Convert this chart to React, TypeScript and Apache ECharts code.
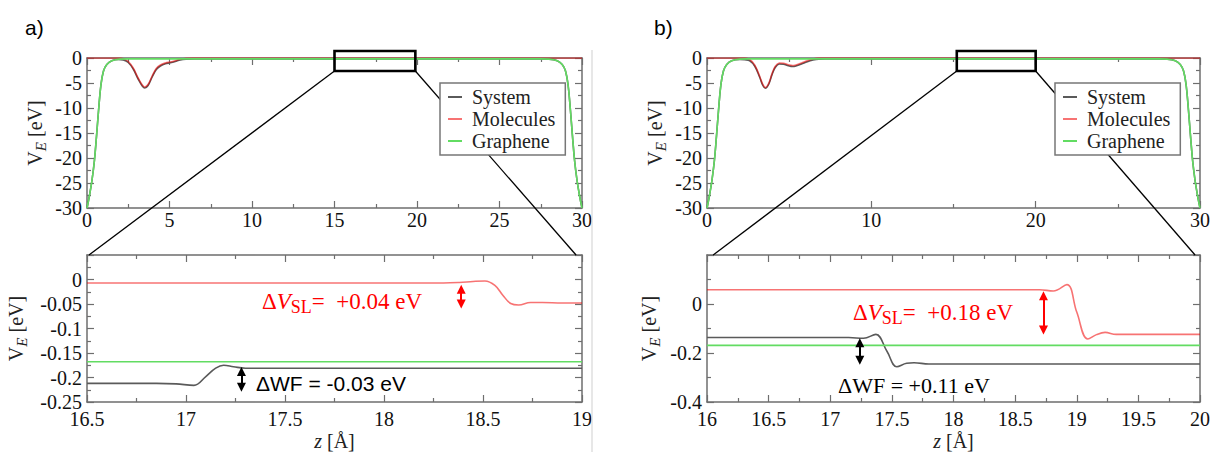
import React, { useEffect, useRef } from "react";
import * as echarts from "echarts";

// ---------- data ----------
const seriesNames = ["System", "Molecules", "Graphene"];

// panel a, full cell (z in Å, V_E in eV)
const grapheneTopA: number[][] = [[0,-30],[0.15,-27.5],[0.3,-24.5],[0.45,-20.5],[0.58,-15.5],[0.7,-10.5],[0.84,-5.5],[1.0,-2.6],[1.2,-1.3],[1.5,-0.55],[2.0,-0.22],[2.5,-0.17],[27.5,-0.17],[28.0,-0.22],[28.5,-0.55],[28.8,-1.3],[29.0,-2.6],[29.16,-5.5],[29.3,-10.5],[29.42,-15.5],[29.55,-20.5],[29.7,-24.5],[29.85,-27.5],[30,-30]];
const systemTopA: number[][] = [[0,-30],[0.15,-27.5],[0.3,-24.5],[0.45,-20.5],[0.58,-15.5],[0.7,-10.5],[0.84,-5.5],[1.0,-2.6],[1.2,-1.3],[1.5,-0.55],[1.9,-0.3],[2.2,-0.4],[2.5,-0.9],[2.8,-2.2],[3.1,-4.2],[3.35,-5.6],[3.5,-6.0],[3.7,-5.5],[3.95,-3.8],[4.2,-2.3],[4.45,-1.6],[4.75,-1.15],[5.05,-0.95],[5.35,-0.7],[5.65,-0.4],[6.0,-0.25],[6.5,-0.2],[27.5,-0.18],[28.0,-0.22],[28.5,-0.55],[28.8,-1.3],[29.0,-2.6],[29.16,-5.5],[29.3,-10.5],[29.42,-15.5],[29.55,-20.5],[29.7,-24.5],[29.85,-27.5],[30,-30]];
const moleculesTopA: number[][] = [[0,0],[2.0,0],[2.2,-0.15],[2.5,-0.7],[2.8,-2.0],[3.1,-4.0],[3.35,-5.4],[3.5,-5.8],[3.7,-5.3],[3.95,-3.6],[4.2,-2.1],[4.45,-1.4],[4.75,-1.0],[5.05,-0.8],[5.35,-0.55],[5.65,-0.25],[6.0,-0.05],[6.4,0],[30,0]];

// panel b, full cell
const grapheneTopB: number[][] = [[0,-30],[0.15,-27.5],[0.3,-24.5],[0.45,-20.5],[0.58,-15.5],[0.7,-10.5],[0.84,-5.5],[1.0,-2.6],[1.2,-1.3],[1.5,-0.55],[2.0,-0.22],[2.5,-0.17],[27.5,-0.17],[28.0,-0.22],[28.5,-0.55],[28.8,-1.3],[29.0,-2.6],[29.16,-5.5],[29.3,-10.5],[29.42,-15.5],[29.55,-20.5],[29.7,-24.5],[29.85,-27.5],[30,-30]];
const systemTopB: number[][] = [[0,-30],[0.15,-27.5],[0.3,-24.5],[0.45,-20.5],[0.58,-15.5],[0.7,-10.5],[0.84,-5.5],[1.0,-2.6],[1.2,-1.3],[1.5,-0.55],[2.0,-0.3],[2.3,-0.35],[2.6,-0.55],[2.9,-1.6],[3.2,-3.8],[3.4,-5.5],[3.55,-6.05],[3.75,-5.3],[3.95,-3.4],[4.15,-1.9],[4.4,-1.2],[4.65,-1.25],[4.95,-1.55],[5.2,-1.7],[5.45,-1.55],[5.75,-1.2],[6.1,-0.75],[6.4,-0.45],[6.8,-0.22],[7.2,-0.18],[27.5,-0.18],[28.0,-0.22],[28.5,-0.55],[28.8,-1.3],[29.0,-2.6],[29.16,-5.5],[29.3,-10.5],[29.42,-15.5],[29.55,-20.5],[29.7,-24.5],[29.85,-27.5],[30,-30]];
const moleculesTopB: number[][] = [[0,0],[2.3,0],[2.6,-0.3],[2.9,-1.4],[3.2,-3.6],[3.4,-5.3],[3.55,-5.9],[3.75,-5.1],[3.95,-3.2],[4.15,-1.7],[4.4,-1.0],[4.65,-1.05],[4.95,-1.35],[5.2,-1.5],[5.45,-1.35],[5.75,-1.0],[6.1,-0.55],[6.4,-0.25],[6.8,-0.03],[7.2,0],[30,0]];

// panel a, zoom 16.5–19 Å
const systemZoomA: number[][] = [[16.5,-0.212],[16.85,-0.212],[16.95,-0.213],[17.04,-0.216],[17.1,-0.198],[17.15,-0.181],[17.19,-0.175],[17.24,-0.178],[17.3,-0.181],[17.6,-0.181],[19,-0.181]];
const moleculesZoomA: number[][] = [[16.5,-0.007],[18.3,-0.007],[18.38,-0.006],[18.45,-0.004],[18.51,-0.003],[18.56,-0.012],[18.6,-0.032],[18.64,-0.049],[18.68,-0.052],[18.74,-0.047],[18.8,-0.047],[18.9,-0.048],[19,-0.048]];
const grapheneZoomA: number[][] = [[16.5,-0.168],[19,-0.168]];

// panel b, zoom 16–20 Å
const systemZoomB: number[][] = [[16,-0.137],[17.15,-0.137],[17.27,-0.14],[17.37,-0.124],[17.46,-0.193],[17.54,-0.256],[17.62,-0.242],[17.68,-0.24],[17.8,-0.245],[18.2,-0.245],[20,-0.245]];
const moleculesZoomB: number[][] = [[16,0.058],[18.7,0.058],[18.81,0.053],[18.92,0.079],[19.0,-0.033],[19.09,-0.143],[19.16,-0.125],[19.23,-0.116],[19.32,-0.124],[19.6,-0.124],[20,-0.124]];
const grapheneZoomB: number[][] = [[16,-0.169],[20,-0.169]];

// double-headed arrows (ΔV_SL in red, ΔWF in black)
const arrowSLA: number[][] = [[18.39,-0.02],[18.39,-0.05]];
const arrowWFA: number[][] = [[17.28,-0.188],[17.28,-0.22]];
const arrowSLB: number[][] = [[18.73,0.034],[18.73,-0.106]];
const arrowWFB: number[][] = [[17.24,-0.158],[17.24,-0.23]];

// zoom windows drawn on the full-cell plots [zMin, zMax, vTop, vBottom]
const zoomBoxA = [15, 19.9, 1.4, -2.6];
const zoomBoxB = [15.2, 20, 1.4, -2.6];

// axis ranges [min, max, interval]
const axisTopAX = [0, 30, 5];
const axisTopAY = [-30, 0, 5];
const axisZoomAX = [16.5, 19, 0.5];
const axisZoomAY = [-0.25, 0.05, 0.05];
const axisTopBX = [0, 30, 10];
const axisTopBY = [-30, 0, 5];
const axisZoomBX = [16, 20, 0.5];
const axisZoomBY = [-0.4, 0.2, 0.2];

// ---------- style ----------
const SERIF = "Liberation Serif";
const SANS = "Liberation Sans";
const FRAME = "#6e6e6e";
const C_SYS = "#5a5a5a";
const C_MOL = "rgba(240,0,0,0.55)";
const C_GRA = "#62dc62";

const grids = [
  { left: 87, top: 58, width: 495, height: 150 },
  { left: 87, top: 255, width: 495, height: 150 },
  { left: 707, top: 58, width: 493, height: 150 },
  { left: 707, top: 255, width: 493, height: 150 },
];

const tickCommon = {
  axisLine: { show: true, onZero: false, lineStyle: { color: FRAME, width: 1.5 } },
  axisTick: { show: true, inside: true, length: 7, lineStyle: { color: FRAME, width: 1.2 } },
  minorTick: { show: true, splitNumber: 2, length: 4, lineStyle: { color: FRAME, width: 1.2 } },
  splitLine: { show: false },
  minorSplitLine: { show: false },
};

const labelStyle = { fontFamily: SERIF, fontSize: 20, color: "#111" };

function xAxes(g: number, r: number[], zoomPanel: boolean) {
  const base = { type: "value", gridIndex: g, min: r[0], max: r[1], interval: r[2], ...tickCommon };
  return [
    {
      ...base,
      position: "bottom",
      axisLabel: { show: true, margin: zoomPanel ? 7 : 2, lineHeight: 20, ...labelStyle },
      name: zoomPanel ? "{z|z}{t| [Å]}" : "",
      nameLocation: "middle",
      nameGap: 29,
      nameTextStyle: {
        fontFamily: SERIF,
        rich: {
          z: { fontFamily: SERIF, fontSize: 20, fontStyle: "italic", color: "#222" },
          t: { fontFamily: SERIF, fontSize: 20, color: "#222" },
        },
      },
    },
    { ...base, position: "top", axisLabel: { show: false } },
  ];
}

function yAxes(g: number, r: number[], showMax: boolean, gap: number) {
  const base = { type: "value", gridIndex: g, min: r[0], max: r[1], interval: r[2], ...tickCommon };
  return [
    {
      ...base,
      position: "left",
      axisLabel: { show: true, margin: 5, lineHeight: 14, showMaxLabel: showMax, ...labelStyle },
      name: "{v|V}{e|E}{t| [eV]}",
      nameLocation: "middle",
      nameRotate: 90,
      nameGap: gap,
      nameTextStyle: {
        fontFamily: SERIF,
        rich: {
          v: { fontFamily: SERIF, fontSize: 20, color: "#222", lineHeight: 26 },
          e: { fontFamily: SERIF, fontSize: 15, fontStyle: "italic", color: "#222", verticalAlign: "bottom", lineHeight: 15 },
          t: { fontFamily: SERIF, fontSize: 20, color: "#222", lineHeight: 26 },
        },
      },
    },
    { ...base, position: "right", axisLabel: { show: false } },
  ];
}

function line(g: number, name: string, data: number[][], color: string, extra: any = {}) {
  return {
    type: "line",
    name,
    xAxisIndex: 2 * g,
    yAxisIndex: 2 * g,
    data,
    symbol: "none",
    showSymbol: false,
    smooth: 0.4,
    lineStyle: { color, width: 1.6 },
    itemStyle: { color },
    ...extra,
  };
}

function arrow(pts: number[][], color: string) {
  return {
    markLine: {
      silent: true,
      animation: false,
      symbol: ["triangle", "triangle"],
      symbolSize: [9, 9],
      label: { show: false },
      lineStyle: { color, width: 2, type: "solid", opacity: 1 },
      data: [[{ coord: pts[0] }, { coord: pts[1] }]],
    },
  };
}

function legend(left: number) {
  return {
    show: true,
    left,
    top: 83,
    orient: "vertical",
    data: seriesNames,
    selectedMode: false,
    icon: "rect",
    backgroundColor: "#ffffff",
    borderColor: "#777",
    borderWidth: 1.5,
    borderRadius: 0,
    padding: [3, 10, 3, 8],
    itemGap: 0,
    itemWidth: 14,
    itemHeight: 2,
    z: 10,
    textStyle: { fontFamily: SERIF, fontSize: 20, color: "#222", lineHeight: 22, padding: [0, 0, 0, 5] },
  };
}

const option: any = {
  animation: false,
  backgroundColor: "#ffffff",
  textStyle: { fontFamily: SERIF },
  grid: grids,
  legend: [legend(440), legend(1055)],
  xAxis: [
    ...xAxes(0, axisTopAX, false),
    ...xAxes(1, axisZoomAX, true),
    ...xAxes(2, axisTopBX, false),
    ...xAxes(3, axisZoomBX, true),
  ],
  yAxis: [
    ...yAxes(0, axisTopAY, true, 39),
    ...yAxes(1, axisZoomAY, false, 58),
    ...yAxes(2, axisTopBY, true, 39),
    ...yAxes(3, axisZoomBY, false, 45),
  ],
  series: [
    line(0, "System", systemTopA, C_SYS),
    line(0, "Molecules", moleculesTopA, C_MOL),
    line(0, "Graphene", grapheneTopA, C_GRA),
    line(1, "System", systemZoomA, C_SYS, arrow(arrowWFA, "#000")),
    line(1, "Molecules", moleculesZoomA, C_MOL, arrow(arrowSLA, "#ff0000")),
    line(1, "Graphene", grapheneZoomA, C_GRA),
    line(2, "System", systemTopB, C_SYS),
    line(2, "Molecules", moleculesTopB, C_MOL),
    line(2, "Graphene", grapheneTopB, C_GRA),
    line(3, "System", systemZoomB, C_SYS, arrow(arrowWFB, "#000")),
    line(3, "Molecules", moleculesZoomB, C_MOL, arrow(arrowSLB, "#ff0000")),
    line(3, "Graphene", grapheneZoomB, C_GRA),
  ],
};

function slText(x: number, y: number, value: string) {
  const f = "#ff0000";
  return {
    type: "text",
    x,
    y,
    z: 6,
    style: {
      text: "{d|Δ}{v|V}{s|SL}{t|=  " + value + "}",
      verticalAlign: "middle",
      align: "left",
      fill: f,
      fontFamily: SERIF,
      fontSize: 23,
      rich: {
        d: { fontFamily: SERIF, fontSize: 23, fill: f, lineHeight: 29 },
        v: { fontFamily: SERIF, fontSize: 23, fontStyle: "italic", fill: f, lineHeight: 29 },
        s: { fontFamily: SERIF, fontSize: 18, fill: f, verticalAlign: "bottom", lineHeight: 18 },
        t: { fontFamily: SERIF, fontSize: 23, fill: f, lineHeight: 29 },
      },
    },
  };
}

function plainText(x: number, y: number, text: string, family: string, size: number) {
  return {
    type: "text",
    x,
    y,
    z: 6,
    style: { text, fontFamily: family, fontSize: size, fill: "#000", verticalAlign: "middle", align: "left" },
  };
}

export default function App() {
  const ref = useRef<HTMLDivElement>(null);
  useEffect(() => {
    if (!ref.current) return;
    const chart = echarts.init(ref.current, undefined, { renderer: "svg" });
    chart.setOption(option);

    const px = (g: number, p: number[]) =>
      chart.convertToPixel({ xAxisIndex: 2 * g, yAxisIndex: 2 * g } as any, p) as number[];

    const boxGraphics = (gTop: number, gZoom: number, box: number[], zr: number[], yTop: number) => {
      const tl = px(gTop, [box[0], box[2]]);
      const br = px(gTop, [box[1], box[3]]);
      const zl = px(gZoom, [zr[0], yTop]);
      const zrr = px(gZoom, [zr[1], yTop]);
      return [
        { type: "line", z: 5, shape: { x1: tl[0], y1: br[1], x2: zl[0], y2: zl[1] }, style: { stroke: "#000", lineWidth: 1.3 } },
        { type: "line", z: 5, shape: { x1: br[0], y1: br[1], x2: zrr[0], y2: zrr[1] }, style: { stroke: "#000", lineWidth: 1.3 } },
        { type: "rect", z: 6, shape: { x: tl[0], y: tl[1], width: br[0] - tl[0], height: br[1] - tl[1] }, style: { fill: "transparent", stroke: "#000", lineWidth: 2.6 } },
      ];
    };

    chart.setOption({
      graphic: [
        plainText(25, 27, "a)", SANS, 21),
        plainText(654, 27, "b)", SANS, 21),
        { type: "line", z: 1, shape: { x1: 592, y1: 50, x2: 592, y2: 452 }, style: { stroke: "#cfcfcf", lineWidth: 1 } },
        ...boxGraphics(0, 1, zoomBoxA, [16.51, 18.97], 0.05),
        ...boxGraphics(2, 3, zoomBoxB, [16.05, 19.96], 0.2),
        slText(262, 301, "+0.04 eV"),
        plainText(256, 383, "ΔWF = -0.03 eV", SANS, 21),
        slText(853, 312, "+0.18 eV"),
        plainText(838, 385, "ΔWF = +0.11 eV", SERIF, 22),
      ],
    });

    return () => chart.dispose();
  }, []);
  return <div ref={ref} style={{ position: "absolute", left: 0, top: 0, width: 1213, height: 452 }} />;
}
